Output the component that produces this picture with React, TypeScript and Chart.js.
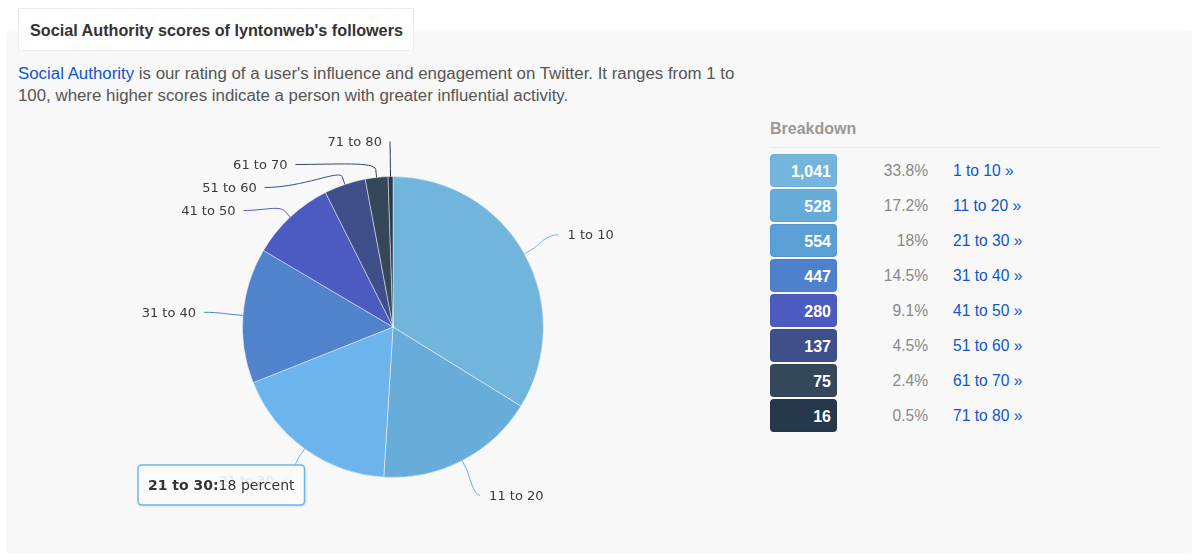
import React, { useEffect, useRef } from 'react';
import { Chart, registerables } from 'chart.js';

Chart.register(...registerables);

// ---- data ----
const categories = ['1 to 10', '11 to 20', '21 to 30', '31 to 40', '41 to 50', '51 to 60', '61 to 70', '71 to 80'];
const followerCounts = [1041, 528, 554, 447, 280, 137, 75, 16];
const percentLabels = ['33.8%', '17.2%', '18%', '14.5%', '9.1%', '4.5%', '2.4%', '0.5%'];
const sliceColors = ['#72b5dc', '#68acd9', '#6cb4eb', '#5083cc', '#4c5bbf', '#3f4f8a', '#35475a', '#26384c'];
const badgeColors = ['#73b5dd', '#67acd9', '#5a9fd6', '#4f80cc', '#4c5bbf', '#3f4f8a', '#35475a', '#26384c'];
const tooltipIndex = 2;
const tooltipValueText = '18 percent';

const LABEL_FONT = '13px "DejaVu Sans", "Noto Sans", sans-serif';

const pieLabelPlugin = {
  id: 'pieLabels',
  afterDatasetsDraw(chart: any, _args: any, opts: any) {
    const ctx = chart.ctx;
    const meta = chart.getDatasetMeta(0);
    const arcs = meta.data;
    if (!arcs || !arcs.length) return;
    const items: any[] = arcs.map((arc: any, i: number) => {
      const p = arc.getProps(['x', 'y', 'startAngle', 'endAngle', 'outerRadius'], true);
      const mid = (p.startAngle + p.endAngle) / 2;
      const R = p.outerRadius + opts.distance;
      const cos = Math.cos(mid);
      const sin = Math.sin(mid);
      return {
        i, cx: p.x, cy: p.y, r: p.outerRadius, R, cos, sin,
        left: cos < 0,
        natY: p.y + R * sin,
        natX: p.x + R * cos,
        x: 0, y: 0,
      };
    });
    [true, false].forEach((left) => {
      const side = items.filter((it) => it.left === left).sort((a, b) => a.natY - b.natY);
      if (!side.length) return;
      const { cy, R } = side[0];
      const minY = cy - R + opts.edgeInset;
      const maxY = cy + R - opts.edgeInset;
      let prev = -Infinity;
      side.forEach((it) => {
        it.y = Math.max(it.natY, prev + opts.spacing, minY);
        prev = it.y;
      });
      let next = Infinity;
      for (let k = side.length - 1; k >= 0; k--) {
        const it = side[k];
        it.y = Math.min(it.y, next - opts.spacing, maxY);
        next = it.y;
      }
      side.forEach((it, k) => {
        const dir = left ? -1 : 1;
        if (k === 0 || k === side.length - 1) {
          it.x = it.natX;
        } else {
          const dy = it.y - it.cy;
          it.x = it.cx + dir * Math.sqrt(Math.max(0, it.R * it.R - dy * dy));
        }
      });
    });

    ctx.save();
    ctx.font = LABEL_FONT;
    ctx.textBaseline = 'middle';
    items.forEach((it) => {
      const color = sliceColors[it.i];
      const ex = it.cx + it.r * it.cos;
      const ey = it.cy + it.r * it.sin;
      const bx = it.cx + (it.r + 8) * it.cos;
      const by = it.cy + (it.r + 8) * it.sin;
      const c2x = 2 * bx - ex;
      const c2y = 2 * by - ey;
      const c1x = it.x + (bx - it.x) * 0.5;
      ctx.beginPath();
      ctx.moveTo(it.x, it.y);
      ctx.bezierCurveTo(c1x, it.y, c2x, c2y, bx, by);
      ctx.lineTo(ex, ey);
      ctx.strokeStyle = color;
      ctx.lineWidth = 1;
      ctx.stroke();
      ctx.fillStyle = '#3a3a3a';
      ctx.textAlign = it.left ? 'right' : 'left';
      ctx.fillText(categories[it.i], it.x + (it.left ? -8 : 9), it.y + 1);
    });
    ctx.restore();
  },
  afterDraw(chart: any, _args: any, opts: any) {
    const tt = opts.tooltip;
    if (!tt) return;
    const ctx = chart.ctx;
    ctx.save();
    const boldFont = 'bold 14px "DejaVu Sans", sans-serif';
    const normFont = '14px "DejaVu Sans", sans-serif';
    const title = categories[tt.index] + ':';
    ctx.font = boldFont;
    const w1 = ctx.measureText(title).width;
    ctx.font = normFont;
    const w2 = ctx.measureText(tt.text).width;
    const pad = 10;
    const w = w1 + w2 + pad * 2;
    const h = 40;
    const x = tt.x;
    const y = tt.y;
    const rr = 4;
    const path = () => {
      ctx.beginPath();
      ctx.moveTo(x + rr, y);
      ctx.lineTo(x + w - rr, y);
      ctx.quadraticCurveTo(x + w, y, x + w, y + rr);
      ctx.lineTo(x + w, y + h - rr);
      ctx.quadraticCurveTo(x + w, y + h, x + w - rr, y + h);
      ctx.lineTo(x + rr, y + h);
      ctx.quadraticCurveTo(x, y + h, x, y + h - rr);
      ctx.lineTo(x, y + rr);
      ctx.quadraticCurveTo(x, y, x + rr, y);
      ctx.closePath();
    };
    ctx.shadowColor = 'rgba(0,0,0,0.18)';
    ctx.shadowOffsetX = 1;
    ctx.shadowOffsetY = 1;
    ctx.shadowBlur = 3;
    path();
    ctx.fillStyle = 'rgba(255,255,255,0.88)';
    ctx.fill();
    ctx.shadowColor = 'transparent';
    path();
    ctx.strokeStyle = sliceColors[tt.index];
    ctx.lineWidth = 1.5;
    ctx.stroke();
    ctx.textBaseline = 'middle';
    ctx.textAlign = 'left';
    ctx.fillStyle = '#333333';
    ctx.font = boldFont;
    ctx.fillText(title, x + pad, y + h / 2 + 1);
    ctx.font = normFont;
    ctx.fillText(tt.text, x + pad + w1, y + h / 2 + 1);
    ctx.restore();
  },
};

function PieChart() {
  const ref = useRef<HTMLCanvasElement | null>(null);
  useEffect(() => {
    if (!ref.current) return;
    const chart = new Chart(ref.current, {
      type: 'pie',
      data: {
        labels: categories,
        datasets: [
          {
            data: followerCounts,
            backgroundColor: sliceColors,
            borderColor: 'rgba(255,255,255,0.45)',
            borderWidth: 1,
            hoverOffset: 0,
            offset: 0,
          },
        ],
      },
      options: {
        animation: false,
        responsive: true,
        maintainAspectRatio: false,
        events: [],
        layout: { padding: { left: 142, right: 156, top: 66, bottom: 67 } },
        plugins: {
          legend: { display: false },
          tooltip: { enabled: false },
          pieLabels: {
            distance: 39,
            spacing: 23,
            edgeInset: 4,
            tooltip: { index: tooltipIndex, text: tooltipValueText, x: 38, y: 355 },
          },
        } as any,
      },
      plugins: [pieLabelPlugin as any],
    });
    return () => chart.destroy();
  }, []);
  return (
    <div style={{ position: 'absolute', left: 100, top: 110, width: 600, height: 435 }}>
      <canvas ref={ref} />
    </div>
  );
}

const SANS = '"Liberation Sans", Helvetica, Arial, sans-serif';
const LINK = '#1155cc';

export default function App() {
  return (
    <div style={{ position: 'absolute', left: 0, top: 0, width: 1200, height: 560, background: '#ffffff', fontFamily: SANS, overflow: 'hidden' }}>
      <div style={{ position: 'absolute', left: 6, top: 31, width: 1186, height: 523, background: '#f8f8f8', borderRadius: 4 }} />
      <div
        style={{
          position: 'absolute', left: 18, top: 8, width: 396, height: 43, boxSizing: 'border-box',
          background: '#ffffff', border: '1px solid #ececec', color: '#333333', fontWeight: 'bold',
          fontSize: 16.2, lineHeight: '42px', paddingLeft: 11, whiteSpace: 'nowrap',
        }}
      >
        Social Authority scores of lyntonweb's followers
      </div>
      <div style={{ position: 'absolute', left: 18, top: 63, fontSize: 16.85, lineHeight: '22px', color: '#555555', whiteSpace: 'nowrap' }}>
        <span style={{ color: LINK }}>Social Authority</span> is our rating of a user's influence and engagement on Twitter. It ranges from 1 to
        <br />
        100, where higher scores indicate a person with greater influential activity.
      </div>

      <PieChart />

      <div style={{ position: 'absolute', left: 770, top: 119, fontSize: 16, lineHeight: '20px', fontWeight: 'bold', color: '#999999' }}>Breakdown</div>
      <div style={{ position: 'absolute', left: 770, top: 147, width: 390, height: 1, background: '#ececec' }} />
      {categories.map((cat, i) => (
        <React.Fragment key={cat}>
          <div
            style={{
              position: 'absolute', left: 770, top: 154 + 35 * i, width: 67, height: 33, boxSizing: 'border-box',
              borderRadius: 4, background: badgeColors[i], color: '#ffffff', fontWeight: 'bold', fontSize: 16,
              lineHeight: '33px', textAlign: 'right', paddingRight: 5, border: '1px solid rgba(0,0,0,0.04)',
            }}
          >
            {followerCounts[i].toLocaleString('en-US')}
          </div>
          <div style={{ position: 'absolute', left: 840, top: 154 + 35 * i, width: 88, height: 33, lineHeight: '33px', textAlign: 'right', color: '#888888', fontSize: 15.6 }}>
            {percentLabels[i]}
          </div>
          <div style={{ position: 'absolute', left: 953, top: 154 + 35 * i, height: 33, lineHeight: '33px', color: LINK, fontSize: 15.6, whiteSpace: 'nowrap' }}>
            {cat} »
          </div>
        </React.Fragment>
      ))}
    </div>
  );
}
